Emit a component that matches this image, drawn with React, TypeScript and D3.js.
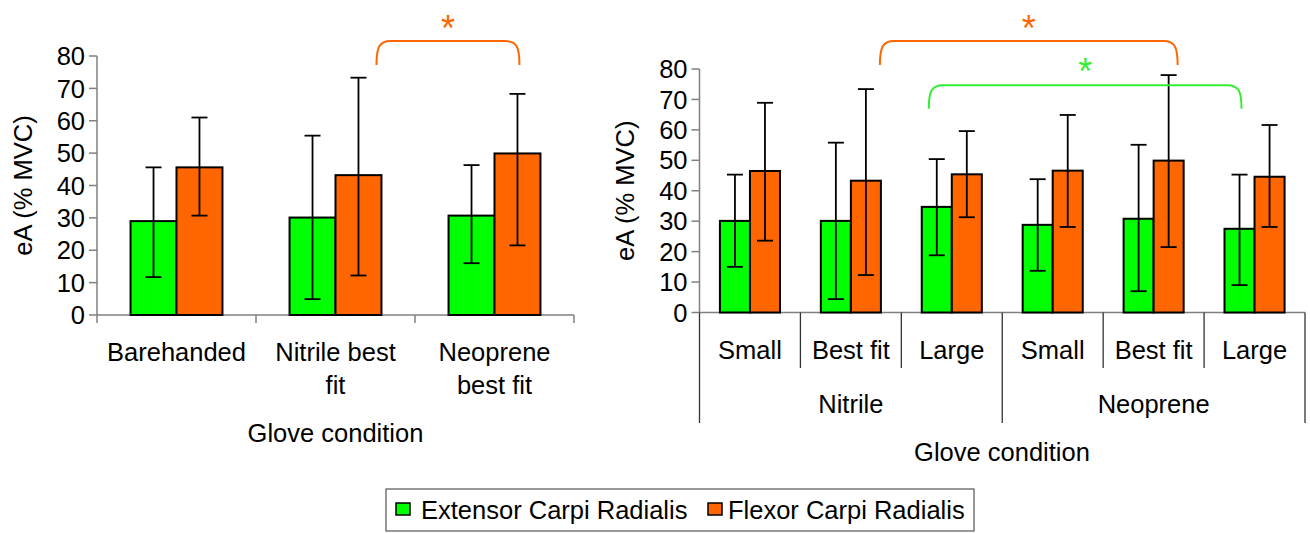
import React from 'react';
import * as d3 from 'd3';

// series
const seriesNames = ['Extensor Carpi Radialis', 'Flexor Carpi Radialis'];
const seriesColors = ['#00ff00', '#ff6600'];

// left panel
const leftCats = ['Barehanded', 'Nitrile best fit', 'Neoprene best fit'];
const leftLabels = [['Barehanded'], ['Nitrile best', 'fit'], ['Neoprene', 'best fit']];
const leftEcr = [29.0, 30.1, 30.7];
const leftEcrLo = [11.7, 4.9, 16.0];
const leftEcrHi = [45.6, 55.4, 46.3];
const leftFcr = [45.6, 43.2, 49.9];
const leftFcrLo = [30.7, 12.2, 21.5];
const leftFcrHi = [61.0, 73.3, 68.3];

// right panel
const rightGroups = ['Nitrile', 'Neoprene'];
const rightSizes = ['Small', 'Best fit', 'Large'];
const rightEcr = [30.1, 30.1, 34.7, 28.8, 30.8, 27.5];
const rightEcrLo = [15.0, 4.4, 18.8, 13.7, 7.0, 9.0];
const rightEcrHi = [45.3, 55.8, 50.4, 43.8, 55.1, 45.3];
const rightFcr = [46.5, 43.3, 45.4, 46.6, 49.9, 44.6];
const rightFcrLo = [23.6, 12.3, 31.3, 28.1, 21.5, 28.1];
const rightFcrHi = [68.9, 73.4, 59.6, 64.9, 78.0, 61.6];

const yTicks = [0, 10, 20, 30, 40, 50, 60, 70, 80];

const FONT = 'Liberation Sans, Arial, sans-serif';
const FS = 25.5;
const AXIS = '#808080';

function bracketPath(x1: number, x2: number, yTop: number, yEnd: number) {
  const r = 14;
  return `M${x1},${yEnd} C${x1},${yTop + 6} ${x1 + 3},${yTop} ${x1 + r},${yTop} L${x2 - r},${yTop} C${x2 - 3},${yTop} ${x2},${yTop + 6} ${x2},${yEnd}`;
}

type Panel = {
  keys: string[];
  ecr: number[]; ecrLo: number[]; ecrHi: number[];
  fcr: number[]; fcrLo: number[]; fcrHi: number[];
  x: d3.ScaleBand<string>;
  sub: d3.ScaleBand<string>;
  y: d3.ScaleLinear<number, number>;
};

function Bars({ p }: { p: Panel }) {
  const bw = p.sub.bandwidth();
  return (
    <g>
      {p.keys.map((k, i) => {
        const vals = [
          [p.ecr[i], p.ecrLo[i], p.ecrHi[i]],
          [p.fcr[i], p.fcrLo[i], p.fcrHi[i]],
        ];
        return vals.map((v, s) => {
          const x0 = (p.x(k) as number) + (p.sub(seriesNames[s]) as number);
          const cx = x0 + bw / 2;
          return (
            <g key={k + s}>
              <rect x={x0} y={p.y(v[0])} width={bw} height={p.y(0) - p.y(v[0])}
                fill={seriesColors[s]} stroke="#000" strokeWidth={2} />
              <line x1={cx} x2={cx} y1={p.y(v[1])} y2={p.y(v[2])} stroke="#000" strokeWidth={1.8} />
              <line x1={cx - 8} x2={cx + 8} y1={p.y(v[1])} y2={p.y(v[1])} stroke="#000" strokeWidth={1.8} />
              <line x1={cx - 8} x2={cx + 8} y1={p.y(v[2])} y2={p.y(v[2])} stroke="#000" strokeWidth={1.8} />
            </g>
          );
        });
      })}
    </g>
  );
}

function YAxis({ y, x0 }: { y: d3.ScaleLinear<number, number>; x0: number }) {
  return (
    <g>
      <line x1={x0} x2={x0} y1={y(0)} y2={y(80)} stroke={AXIS} strokeWidth={1.5} />
      {yTicks.map(t => (
        <g key={t}>
          <line x1={x0 - 8} x2={x0} y1={y(t)} y2={y(t)} stroke={AXIS} strokeWidth={1.5} />
          <text x={x0 - 12} y={y(t)} dy="0.36em" textAnchor="end" fontSize={FS}>{t}</text>
        </g>
      ))}
    </g>
  );
}

export default function App() {
  // left panel scales
  const xL = d3.scaleBand<string>().domain(leftCats).range([97, 574]);
  const subL = d3.scaleBand<string>().domain(seriesNames).range([0, xL.bandwidth()]).paddingOuter(0.73);
  const yL = d3.scaleLinear().domain([0, 80]).range([315, 56]);

  // right panel scales
  const rightKeys = rightGroups.flatMap(g => rightSizes.map(s => g + '|' + s));
  const xR = d3.scaleBand<string>().domain(rightKeys).range([699.5, 1305]);
  const subR = d3.scaleBand<string>().domain(seriesNames).range([0, xR.bandwidth()]).paddingOuter(0.68);
  const yR = d3.scaleLinear().domain([0, 80]).range([312.5, 69]);

  const left: Panel = { keys: leftCats, ecr: leftEcr, ecrLo: leftEcrLo, ecrHi: leftEcrHi, fcr: leftFcr, fcrLo: leftFcrLo, fcrHi: leftFcrHi, x: xL, sub: subL, y: yL };
  const right: Panel = { keys: rightKeys, ecr: rightEcr, ecrLo: rightEcrLo, ecrHi: rightEcrHi, fcr: rightFcr, fcrLo: rightFcrLo, fcrHi: rightFcrHi, x: xR, sub: subR, y: yR };

  const centre = (x: d3.ScaleBand<string>, sub: d3.ScaleBand<string>, k: string, s: number) =>
    (x(k) as number) + (sub(seriesNames[s]) as number) + sub.bandwidth() / 2;

  const lb1 = centre(xL, subL, leftCats[1], 1) + 18;
  const lb2 = centre(xL, subL, leftCats[2], 1) + 2;
  const ro1 = centre(xR, subR, rightKeys[1], 1) + 14;
  const ro2 = centre(xR, subR, rightKeys[4], 1) + 9;
  const rg1 = centre(xR, subR, rightKeys[2], 0) - 8;
  const rg2 = centre(xR, subR, rightKeys[5], 0) + 2;

  const lEdges = [...leftCats.map(c => xL(c) as number), xL.range()[1]];
  const rEdges = [...rightKeys.map(c => xR(c) as number), xR.range()[1]];

  return (
    <svg width={1310} height={533} style={{ position: 'absolute', left: 0, top: 0, fontFamily: FONT }}>
      <rect width={1310} height={533} fill="#fff" />

      {/* left panel */}
      <YAxis y={yL} x0={97} />
      <line x1={97} x2={574} y1={yL(0)} y2={yL(0)} stroke={AXIS} strokeWidth={1.5} />
      {lEdges.map((e, i) => (
        <line key={i} x1={e} x2={e} y1={yL(0)} y2={yL(0) + 8} stroke={AXIS} strokeWidth={1.5} />
      ))}
      <Bars p={left} />
      {leftCats.map((c, i) => (
        <text key={c} x={(xL(c) as number) + xL.bandwidth() / 2} y={352} textAnchor="middle" fontSize={FS}>
          {leftLabels[i].map((l, j) => (
            <tspan key={j} x={(xL(c) as number) + xL.bandwidth() / 2} dy={j === 0 ? '0.36em' : 33}>{l}</tspan>
          ))}
        </text>
      ))}
      <text x={335.5} y={433} dy="0.36em" textAnchor="middle" fontSize={FS}>Glove condition</text>
      <text transform={`translate(23,${yL(40)}) rotate(-90)`} dy="0.36em" textAnchor="middle" fontSize={FS}>eA (% MVC)</text>
      <path d={bracketPath(lb1, lb2, yL(84.6), yL(77.2))} fill="none" stroke="#ff6600" strokeWidth={2} />
      <text x={(lb1 + lb2) / 2} y={41} textAnchor="middle" fontSize={36} fill="#ff6600">*</text>

      {/* right panel */}
      <YAxis y={yR} x0={699.5} />
      <line x1={699.5} x2={1305} y1={yR(0)} y2={yR(0)} stroke={AXIS} strokeWidth={1.5} />
      {rEdges.map((e, i) => (
        <line key={i} x1={e} x2={e} y1={yR(0)} y2={i % 3 === 0 ? 423 : 368} stroke="#333" strokeWidth={1.3} />
      ))}
      <Bars p={right} />
      {rightKeys.map((k, i) => (
        <text key={k} x={(xR(k) as number) + xR.bandwidth() / 2} y={350} dy="0.36em" textAnchor="middle" fontSize={FS}>
          {rightSizes[i % 3]}
        </text>
      ))}
      {rightGroups.map((g, i) => (
        <text key={g} x={(rEdges[i * 3] + rEdges[i * 3 + 3]) / 2} y={404} dy="0.36em" textAnchor="middle" fontSize={FS}>{g}</text>
      ))}
      <text x={1002} y={452} dy="0.36em" textAnchor="middle" fontSize={FS}>Glove condition</text>
      <text transform={`translate(625,${yR(40)}) rotate(-90)`} dy="0.36em" textAnchor="middle" fontSize={FS}>eA (% MVC)</text>
      <path d={bracketPath(ro1, ro2, yR(89.2), yR(81.3))} fill="none" stroke="#ff6600" strokeWidth={2} />
      <text x={(ro1 + ro2) / 2} y={41} textAnchor="middle" fontSize={36} fill="#ff6600">*</text>
      <path d={bracketPath(rg1, rg2, yR(74.7), yR(66.9))} fill="none" stroke="#33ee33" strokeWidth={2} />
      <text x={(rg1 + rg2) / 2} y={84} textAnchor="middle" fontSize={36} fill="#33ee33">*</text>

      {/* legend */}
      <rect x={386} y={489} width={588} height={42} fill="#fff" stroke="#555" strokeWidth={1.2} />
      <rect x={396} y={503} width={14} height={12} fill={seriesColors[0]} stroke="#000" strokeWidth={1.5} />
      <text x={421} y={510} dy="0.36em" fontSize={FS}>{seriesNames[0]}</text>
      <rect x={708} y={503} width={14} height={12} fill={seriesColors[1]} stroke="#000" strokeWidth={1.5} />
      <text x={728} y={510} dy="0.36em" fontSize={FS}>{seriesNames[1]}</text>
    </svg>
  );
}
